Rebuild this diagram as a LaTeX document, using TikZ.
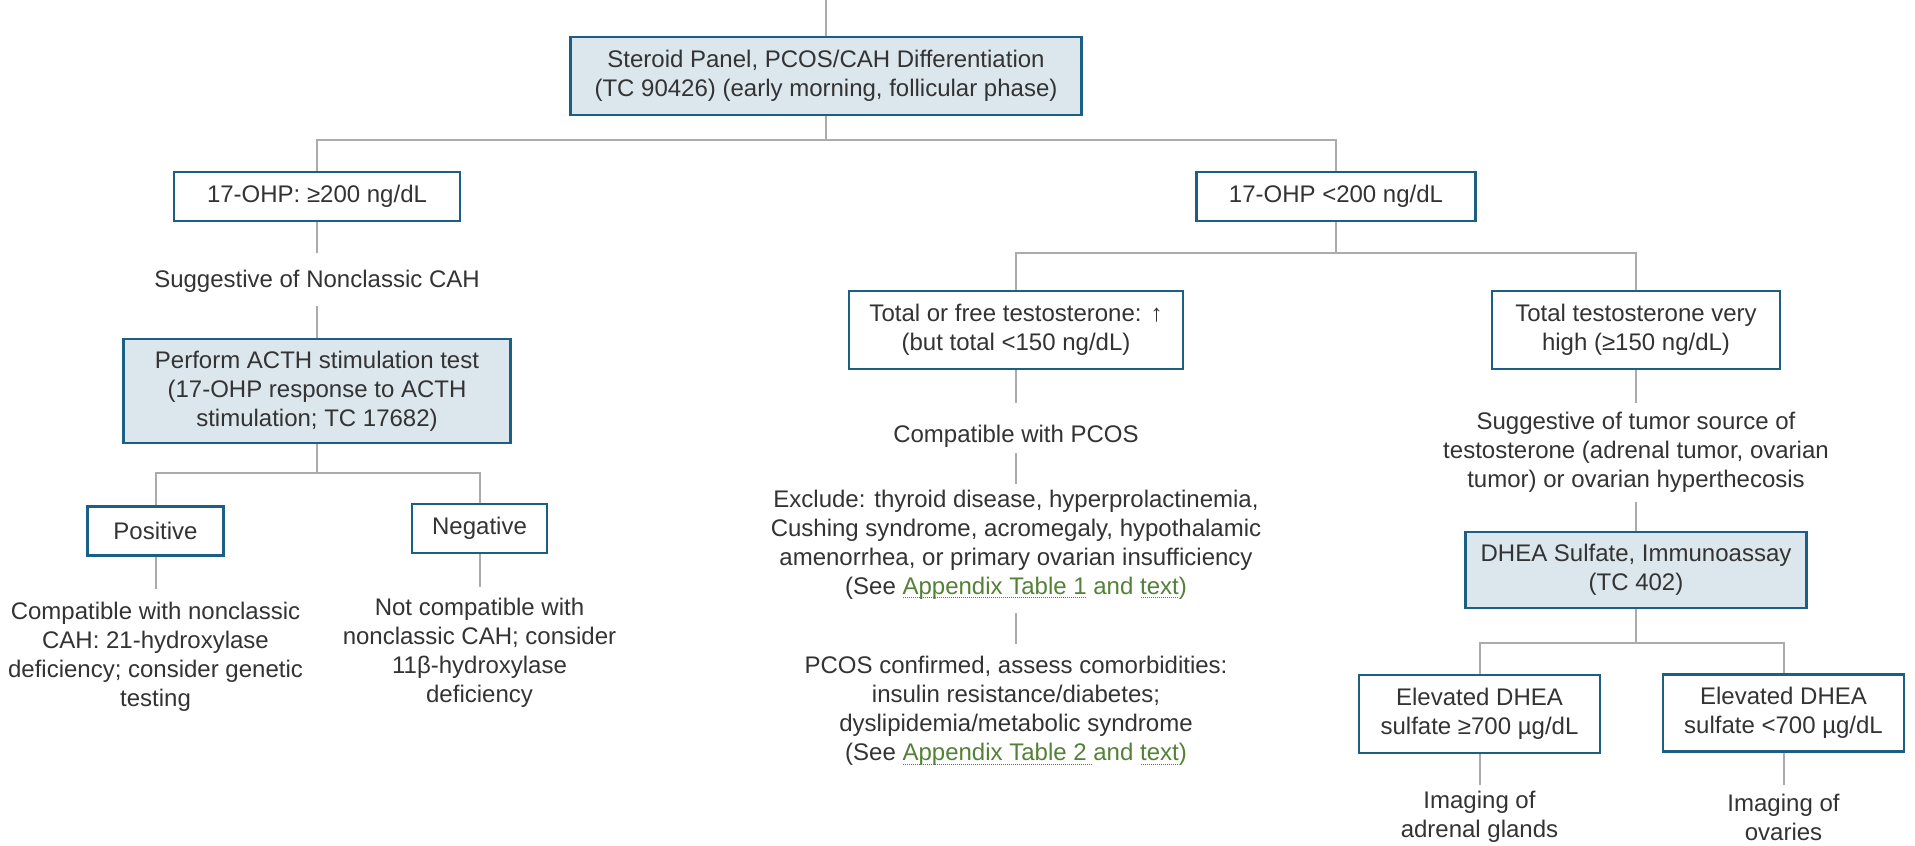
\documentclass[tikz,border=0pt]{standalone}
\usepackage{fontspec}
\setmainfont{Liberation Sans}
\definecolor{txt}{HTML}{333333}
\definecolor{boxblue}{HTML}{1C5F84}
\definecolor{boxfill}{HTML}{DCE6ED}
\definecolor{linegray}{HTML}{ABABAB}
\definecolor{linkgreen}{HTML}{538135}
\newcommand\fs{\fontsize{24}{29}\selectfont}
\newcommand\lnk[1]{\setbox0=\hbox{\color{linkgreen}#1}\leavevmode\rlap{\color{linkgreen}\raisebox{-4pt}{\hbox to \wd0{\leaders\hbox to 2pt{\hss\rule{1pt}{1pt}\hss}\hfill}}}\box0\relax}
\begin{document}
\begin{tikzpicture}[x=1pt,y=-1pt,
  box/.style={draw=boxblue,line width=2.2pt,fill=white,align=center,inner sep=0pt,text=txt,font=\fs},
  shaded/.style={box,fill=boxfill},
  plain/.style={align=center,inner sep=0pt,text=txt,font=\fs},
  conn/.style={draw=linegray,line width=2pt}]
\useasboundingbox[fill=white] (0,0) rectangle (1915,846);

% nodes
\node[shaded,minimum width=511pt,minimum height=78pt] (top) at (826,76)
  {Steroid Panel, PCOS/CAH Differentiation\\(TC 90426) (early morning, follicular phase)};
\node[box,minimum width=286pt,minimum height=49pt] (b200) at (317,196.5) {17-OHP: ≥200 ng/dL};
\node[box,minimum width=279pt,minimum height=49pt] (blt) at (1336,196.5) {17-OHP <200 ng/dL};

\node[plain] (sug) at (317,281.5) {Suggestive of Nonclassic CAH};
\node[shaded,minimum width=387pt,minimum height=104pt] (acth) at (317,391)
  {Perform ACTH stimulation test\\(17-OHP response to ACTH\\stimulation; TC 17682)};
\node[box,minimum width=136pt,minimum height=49pt] (pos) at (155.5,531) {Positive};
\node[box,minimum width=135pt,minimum height=49pt] (neg) at (479.5,528.5) {Negative};
\node[plain] (postext) at (155.5,657)
  {Compatible with nonclassic\\CAH: 21-hydroxylase\\deficiency; consider genetic\\testing};
\node[plain] (negtext) at (479.5,653)
  {Not compatible with\\nonclassic CAH; consider\\11β-hydroxylase\\deficiency};

\node[box,minimum width=334pt,minimum height=78pt] (tf) at (1016,330)
  {Total or free testosterone: ↑\\(but total <150 ng/dL)};
\node[box,minimum width=288pt,minimum height=78pt] (tvh) at (1636,330)
  {Total testosterone very\\high (≥150 ng/dL)};
\node[plain] (pcos) at (1016,436.5) {Compatible with PCOS};
\node[plain] (excl) at (1016,544.5)
  {Exclude: thyroid disease, hyperprolactinemia,\\Cushing syndrome, acromegaly, hypothalamic\\amenorrhea, or primary ovarian insufficiency\\(See \lnk{Appendix Table 1} and \lnk{text})};
\node[plain] (conf) at (1016,711)
  {PCOS confirmed, assess comorbidities:\\insulin resistance/diabetes;\\dyslipidemia/metabolic syndrome\\(See \lnk{Appendix Table 2 }and \lnk{text})};

\node[plain] (tum) at (1636,452.5)
  {Suggestive of tumor source of\\testosterone (adrenal tumor, ovarian\\tumor) or ovarian hyperthecosis};
\node[shaded,minimum width=341pt,minimum height=76pt] (dhea) at (1636,570)
  {DHEA Sulfate, Immunoassay\\(TC 402)};
\node[box,minimum width=241pt,minimum height=78pt] (d1) at (1479.5,714)
  {Elevated DHEA\\sulfate ≥700 µg/dL};
\node[box,minimum width=241pt,minimum height=77pt] (d2) at (1783.5,713)
  {Elevated DHEA\\sulfate <700 µg/dL};
\node[plain] (img1) at (1479.5,817) {Imaging of\\adrenal glands};
\node[plain] (img2) at (1783.5,817) {Imaging of\\ovaries};

% connectors
\coordinate (t0) at (826,0);
\draw[conn] (t0) -- (top.north);
\coordinate (h1) at (826,140);
\draw[conn] (top.south) -- (h1);
\draw[conn] (b200.north) |- (h1) -| (blt.north);

\coordinate (s1) at (317,253);
\coordinate (s2) at (317,306);
\draw[conn] (b200.south) -- (s1);
\draw[conn] (s2) -- (acth.north);
\coordinate (h2) at (317,473);
\draw[conn] (acth.south) -- (h2);
\draw[conn] (pos.north) |- (h2) -| (neg.north);
\coordinate (p1) at (155.5,589);
\draw[conn] (pos.south) -- (p1);
\coordinate (n1) at (479.5,587);
\draw[conn] (neg.south) -- (n1);

\coordinate (h3) at (1336,253);
\draw[conn] (blt.south) -- (h3);
\draw[conn] (tf.north) |- (h3) -| (tvh.north);
\coordinate (m1) at (1016,403);
\draw[conn] (tf.south) -- (m1);
\coordinate (m2a) at (1016,453);
\coordinate (m2b) at (1016,484);
\draw[conn] (m2a) -- (m2b);
\coordinate (m3a) at (1016,613);
\coordinate (m3b) at (1016,644);
\draw[conn] (m3a) -- (m3b);

\coordinate (r1) at (1636,403);
\draw[conn] (tvh.south) -- (r1);
\coordinate (r2) at (1636,502);
\draw[conn] (r2) -- (dhea.north);
\coordinate (h4) at (1636,642.5);
\draw[conn] (dhea.south) -- (h4);
\draw[conn] (d1.north) |- (h4) -| (d2.north);
\coordinate (q1) at (1479.5,785);
\draw[conn] (d1.south) -- (q1);
\coordinate (q2) at (1783.5,785);
\draw[conn] (d2.south) -- (q2);
\end{tikzpicture}
\end{document}
